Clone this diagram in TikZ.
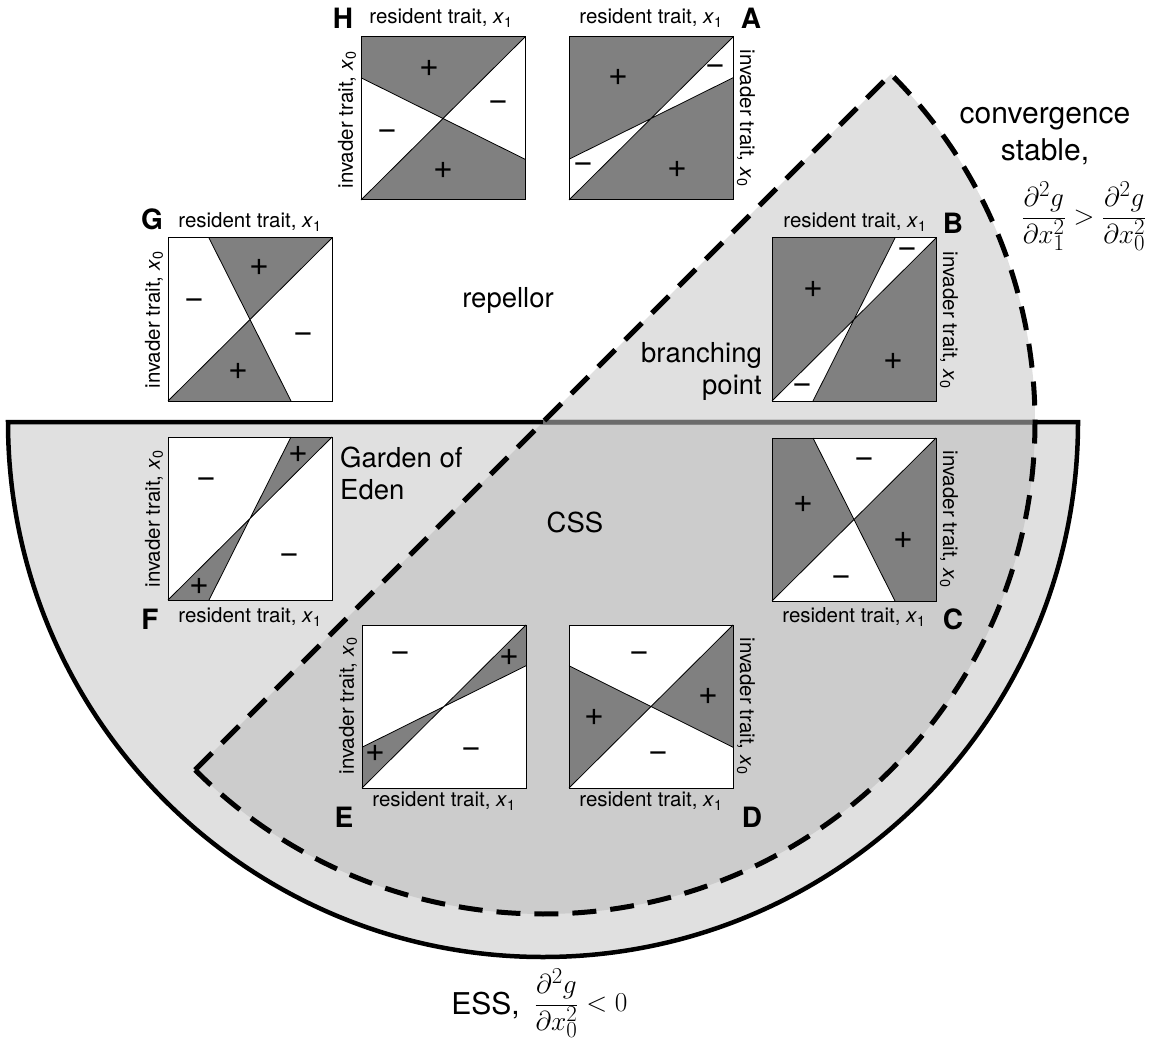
\documentclass[tikz,border=0pt]{standalone}
\usepackage{fontspec}
\setmainfont{TeX Gyre Heros}
\definecolor{lightreg}{gray}{0.878}
\definecolor{overreg}{gray}{0.80}
\definecolor{shadegray}{gray}{0.50}
\definecolor{topgray}{gray}{0.42}
\newcommand{\xs}[1]{\textit{x}\textsubscript{#1}}
\tikzset{
  divline/.style={line width=0.8pt},
  pbox/.style={draw, line width=1pt, minimum width=164pt, minimum height=163pt, inner sep=0pt, outer sep=0pt},
  pm/.style={font=\fontsize{34}{34}\selectfont, inner sep=0pt},
  axl/.style={font=\fontsize{20.5}{24}\selectfont, inner sep=0pt},
  plet/.style={font=\fontsize{28}{28}\selectfont\bfseries, inner sep=0pt},
  region/.style={font=\fontsize{27.5}{32}\selectfont, inner sep=0pt},
  bigtxt/.style={font=\fontsize{30}{37}\selectfont, inner sep=0pt},
  mathtxt/.style={font=\fontsize{24.88}{30}\selectfont, inner sep=0pt},
  essline/.style={line width=4.5pt, line join=miter},
  csline/.style={line width=5pt, dash pattern=on 24pt off 14pt},
}
\begin{document}
\begin{tikzpicture}[x=1pt,y=-1pt]
\useasboundingbox (0,0) rectangle (1151,1040);
% regions
\fill[lightreg] (195.1,769.9) -- (890.9,74.1) arc[start angle=-45, end angle=135, radius=492] -- cycle;
\fill[lightreg] (1078,422) arc[start angle=0, end angle=180, radius=535] -- cycle;
\begin{scope}
  \clip (1078,422) arc[start angle=0, end angle=180, radius=535] -- cycle;
  \fill[overreg] (195.1,769.9) -- (890.9,74.1) arc[start angle=-45, end angle=135, radius=492] -- cycle;
\end{scope}
\draw[essline] (1078,422) arc[start angle=0, end angle=180, radius=535] -- cycle;
\draw[essline, topgray] (543,422) -- (1035,422);
\draw[csline] (195.1,769.9) -- (890.9,74.1) arc[start angle=-45, end angle=135, radius=492] -- cycle;

% Panel H
\begin{scope}[shift={(361,200)}, x=164pt, y=163pt]
  \fill[white] (0,0) rectangle (1,1);
  \fill[shadegray] (0,0.75) -- (0,1) -- (1,1) -- (0.5,0.5) -- cycle;
  \fill[shadegray] (0,0) -- (1,0) -- (1,0.25) -- (0.5,0.5) -- cycle;
  \draw[divline] (0,0) -- (1,1) (0,0.75) -- (1,0.25);
  \node[pbox] (H) at (0.5,0.5) {};
  \node[pm] (Hp1) at (0.42,0.81) {+};
  \node[pm] (Hm1) at (0.835,0.58) {−};
  \node[pm] (Hm2) at (0.16,0.40) {−};
  \node[pm] (Hp2) at (0.5,0.18) {+};
\end{scope}
% Panel A
\begin{scope}[shift={(569,200)}, x=164pt, y=163pt]
  \fill[shadegray] (0,0) rectangle (1,1);
  \fill[white] (0.5,0.5) -- (1,1) -- (1,0.75) -- cycle;
  \fill[white] (0.5,0.5) -- (0,0) -- (0,0.25) -- cycle;
  \draw[divline] (0,0) -- (1,1) (0,0.25) -- (1,0.75);
  \node[pbox] (A) at (0.5,0.5) {};
  \node[pm] (Ap1) at (0.30,0.75) {+};
  \node[pm] (Am1) at (0.89,0.797) {−};
  \node[pm] (Am2) at (0.086,0.197) {−};
  \node[pm] (Ap2) at (0.66,0.187) {+};
\end{scope}
% Panel G
\begin{scope}[shift={(168,401)}, x=164pt, y=163pt]
  \fill[white] (0,0) rectangle (1,1);
  \fill[shadegray] (0.25,1) -- (1,1) -- (0.5,0.5) -- cycle;
  \fill[shadegray] (0,0) -- (0.75,0) -- (0.5,0.5) -- cycle;
  \draw[divline] (0,0) -- (1,1) (0.25,1) -- (0.75,0);
  \node[pbox] (G) at (0.5,0.5) {};
  \node[pm] (Gp1) at (0.555,0.822) {+};
  \node[pm] (Gm1) at (0.163,0.6) {−};
  \node[pm] (Gm2) at (0.827,0.386) {−};
  \node[pm] (Gp2) at (0.427,0.182) {+};
\end{scope}
% Panel B
\begin{scope}[shift={(772,401)}, x=164pt, y=163pt]
  \fill[shadegray] (0,0) rectangle (1,1);
  \fill[white] (0.5,0.5) -- (0.75,1) -- (1,1) -- cycle;
  \fill[white] (0.5,0.5) -- (0,0) -- (0.25,0) -- cycle;
  \draw[divline] (0,0) -- (1,1) (0.25,0) -- (0.75,1);
  \node[pbox] (B) at (0.5,0.5) {};
  \node[pm] (Bp1) at (0.254,0.683) {+};
  \node[pm] (Bm1) at (0.823,0.908) {−};
  \node[pm] (Bp2) at (0.742,0.24) {+};
  \node[pm] (Bm2) at (0.183,0.076) {−};
\end{scope}
% Panel F
\begin{scope}[shift={(168,600)}, x=164pt, y=163pt]
  \fill[white] (0,0) rectangle (1,1);
  \fill[shadegray] (0.75,1) -- (1,1) -- (0.5,0.5) -- cycle;
  \fill[shadegray] (0,0) -- (0.25,0) -- (0.5,0.5) -- cycle;
  \draw[divline] (0,0) -- (1,1) (0.25,0) -- (0.75,1);
  \node[pbox] (F) at (0.5,0.5) {};
  \node[pm] (Fp1) at (0.793,0.89) {+};
  \node[pm] (Fm1) at (0.234,0.717) {−};
  \node[pm] (Fm2) at (0.738,0.256) {−};
  \node[pm] (Fp2) at (0.193,0.082) {+};
\end{scope}
% Panel C
\begin{scope}[shift={(772,601)}, x=164pt, y=163pt]
  \fill[white] (0,0) rectangle (1,1);
  \fill[shadegray] (0,0) -- (0,1) -- (0.25,1) -- (0.5,0.5) -- cycle;
  \fill[shadegray] (0.5,0.5) -- (1,1) -- (1,0) -- (0.75,0) -- cycle;
  \draw[divline] (0,0) -- (1,1) (0.25,1) -- (0.75,0);
  \node[pbox] (C) at (0.5,0.5) {};
  \node[pm] (Cm1) at (0.563,0.847) {−};
  \node[pm] (Cp1) at (0.193,0.592) {+};
  \node[pm] (Cp2) at (0.8,0.373) {+};
  \node[pm] (Cm2) at (0.423,0.122) {−};
\end{scope}
% Panel E
\begin{scope}[shift={(362,788)}, x=164pt, y=163pt]
  \fill[white] (0,0) rectangle (1,1);
  \fill[shadegray] (0.5,0.5) -- (1,1) -- (1,0.75) -- cycle;
  \fill[shadegray] (0,0) -- (0,0.25) -- (0.5,0.5) -- cycle;
  \draw[divline] (0,0) -- (1,1) (0,0.25) -- (1,0.75);
  \node[pbox] (E) at (0.5,0.5) {};
  \node[pm] (Em1) at (0.236,0.807) {−};
  \node[pm] (Ep1) at (0.9,0.8) {+};
  \node[pm] (Ep2) at (0.082,0.21) {+};
  \node[pm] (Em2) at (0.666,0.218) {−};
\end{scope}
% Panel D
\begin{scope}[shift={(569,788)}, x=164pt, y=163pt]
  \fill[white] (0,0) rectangle (1,1);
  \fill[shadegray] (0,0) -- (0,0.75) -- (0.5,0.5) -- cycle;
  \fill[shadegray] (0.5,0.5) -- (1,1) -- (1,0.25) -- cycle;
  \draw[divline] (0,0) -- (1,1) (0,0.75) -- (1,0.25);
  \node[pbox] (D) at (0.5,0.5) {};
  \node[pm] (Dm1) at (0.428,0.807) {−};
  \node[pm] (Dp1) at (0.852,0.563) {+};
  \node[pm] (Dp2) at (0.158,0.433) {+};
  \node[pm] (Dm2) at (0.546,0.193) {−};
\end{scope}

% axis labels
\node[axl] (Hres) at (441,18) {resident trait, \xs{1}};
\node[axl, rotate=90] (Hinv) at (347,120) {invader trait, \xs{0}};
\node[plet] (Hlet) at (343,18) {H};
\node[axl] (Ares) at (651,18) {resident trait, \xs{1}};
\node[axl, rotate=-90] (Ainv) at (746,118) {invader trait, \xs{0}};
\node[plet] (Alet) at (751,18) {A};
\node[axl] (Gres) at (250,222) {resident trait, \xs{1}};
\node[axl, rotate=90] (Ginv) at (154,320) {invader trait, \xs{0}};
\node[plet] (Glet) at (152,219) {G};
\node[axl] (Bres) at (855,222) {resident trait, \xs{1}};
\node[axl, rotate=-90] (Binv) at (949,320) {invader trait, \xs{0}};
\node[plet] (Blet) at (953,223) {B};
\node[axl] (Fres) at (250,617) {resident trait, \xs{1}};
\node[axl, rotate=90] (Finv) at (154,519) {invader trait, \xs{0}};
\node[plet] (Flet) at (150,619) {F};
\node[axl] (Cres) at (854,617) {resident trait, \xs{1}};
\node[axl, rotate=-90] (Cinv) at (949,519) {invader trait, \xs{0}};
\node[plet] (Clet) at (953,619) {C};
\node[axl] (Eres) at (444,801) {resident trait, \xs{1}};
\node[axl, rotate=90] (Einv) at (348,706) {invader trait, \xs{0}};
\node[plet] (Elet) at (344,817) {E};
\node[axl] (Dres) at (651,801) {resident trait, \xs{1}};
\node[axl, rotate=-90] (Dinv) at (746,706) {invader trait, \xs{0}};
\node[plet] (Dlet) at (752,817) {D};

% region labels
\node[region] (rep) at (508,300) {repellor};
\node[region] (css) at (575,522) {CSS};
\node[region, align=right, anchor=east] (bp) at (762,371) {branching\\point};
\node[region, align=left, anchor=west] (goe) at (340,473) {Garden of\\Eden};
\node[bigtxt, align=center] (cs) at (1045,136) {convergence\\stable,};
\node[mathtxt] (csf) at (1084,216) {\scalebox{1.1}{$\displaystyle\frac{\partial^2 g}{\partial x_1^2} > \frac{\partial^2 g}{\partial x_0^2}$}};
\node[bigtxt, anchor=east] (ess) at (520,1005) {ESS,};
\node[mathtxt, anchor=west] (essf) at (534,1003) {\scalebox{1.1}{$\displaystyle\frac{\partial^2 g}{\partial x_0^2} < 0$}};
\end{tikzpicture}
\end{document}
